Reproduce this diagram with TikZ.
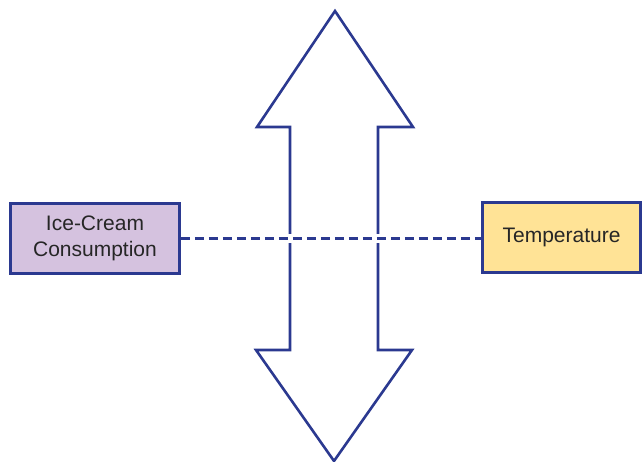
\documentclass[tikz,border=0pt]{standalone}
\usepackage{fontspec}
\setmainfont{Liberation Sans}
\usepackage{tikz}
\definecolor{linkblue}{HTML}{2B3990}
\definecolor{lilac}{HTML}{D5C2DF}
\definecolor{butter}{HTML}{FFE396}

\begin{document}
\begin{tikzpicture}[x=1pt,y=-1pt,
  varbox/.style={draw=linkblue,line width=2.6pt,inner sep=0pt,align=center,
    font=\fontsize{21}{25.5}\selectfont,text=black!85},
  link/.style={draw=linkblue,line width=2.6pt,dash pattern=on 9pt off 5pt,
    preaction={draw=white,line width=9pt,solid}}]
  \useasboundingbox (0,0) rectangle (642,462);
  %double arrow
  \draw[linkblue,line width=2.6pt,line join=miter,fill=white]
    (335,11) -- (413,127) -- (378,127) -- (378,350) -- (412,350)
    -- (334,461) -- (256,350) -- (290,350) -- (290,127) -- (257,127) -- cycle;
  %boxes
  \node[varbox,fill=lilac,minimum width=169pt,minimum height=70pt] (ice) at (95,238.5) {Ice-Cream\\Consumption};
  \node[varbox,fill=butter,minimum width=158pt,minimum height=70pt] (temp) at (561.5,237.5) {Temperature};
  %link
  \draw[link] (ice.east) -- (ice.east -| temp.west);
\end{tikzpicture}
\end{document}
